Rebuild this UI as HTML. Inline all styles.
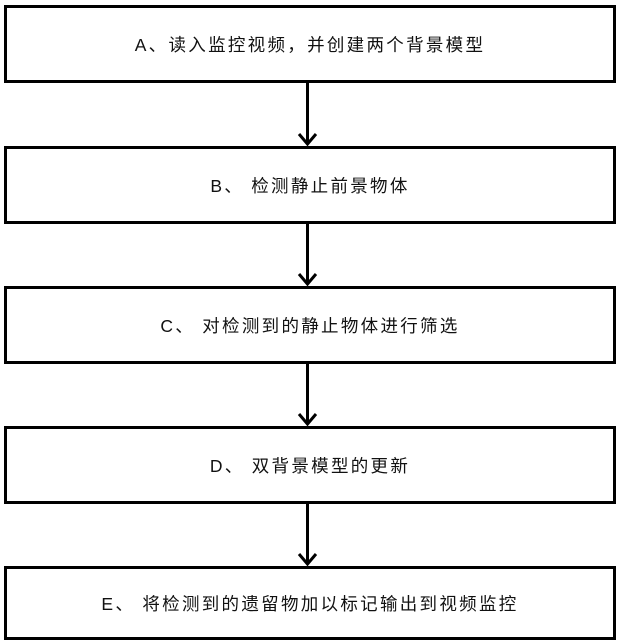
<!DOCTYPE html>
<html><head><meta charset="utf-8"><style>
html,body{margin:0;padding:0;background:#fff;}
body{width:617px;height:642px;position:relative;overflow:hidden;font-family:"Liberation Sans","Noto Sans CJK SC",sans-serif;}
.b{position:absolute;left:4px;width:606px;height:72px;border:3px solid #000;box-sizing:content-box;display:flex;align-items:center;justify-content:center;font-size:17.5px;letter-spacing:2.3px;color:#111;}
svg{position:absolute;left:0;top:0;}
</style></head><body>
<div class="b" style="top:5px">A、读入监控视频，并创建两个背景模型</div>
<div class="b" style="top:146px">B、 检测静止前景物体</div>
<div class="b" style="top:286px">C、 对检测到的静止物体进行筛选</div>
<div class="b" style="top:426px">D、 双背景模型的更新</div>
<div class="b" style="top:566px;height:68px">E、 将检测到的遗留物加以标记输出到视频监控</div>
<svg width="617" height="642">
<g stroke="#000" stroke-width="3" fill="none">
<path d="M307.5 83V144M299 134l8.5 10 8.5-10"/>
<path d="M307.5 224V284M299 274l8.5 10 8.5-10"/>
<path d="M307.5 364V424M299 414l8.5 10 8.5-10"/>
<path d="M307.5 504V564M299 554l8.5 10 8.5-10"/>
</g></svg>
</body></html>
